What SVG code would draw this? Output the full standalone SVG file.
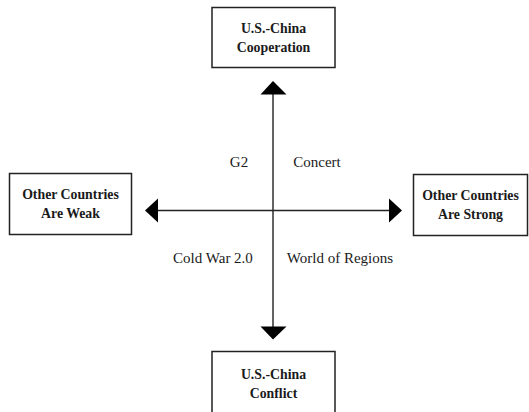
<svg xmlns="http://www.w3.org/2000/svg" width="529" height="412" viewBox="0 0 529 412">
<style>
.box{fill:#fff;stroke:#222;stroke-width:1.5}
.bt{font-family:'Liberation Serif','DejaVu Serif',serif;font-size:13.8px;font-weight:bold;fill:#1a1a1a;text-anchor:middle}
.lt{font-family:'Liberation Serif','DejaVu Serif',serif;font-size:15px;fill:#1a1a1a;text-anchor:middle}
.ax{stroke:#222;stroke-width:1.4;fill:none}
.ah{fill:#000}
</style>
<rect width="529" height="412" fill="#fff"/>
<g id="connectors">
<line class="ax" x1="273" y1="93" x2="273" y2="328"/>
<line class="ax" x1="156" y1="210.5" x2="390" y2="210.5"/>
<polygon class="ah" points="273,81 260.5,94.5 286.5,94.5"/>
<polygon class="ah" points="273,339.5 260.5,326.5 286.5,326.5"/>
<polygon class="ah" points="145,210.5 158,198.5 158,222.5"/>
<polygon class="ah" points="402,210.5 389,198.5 389,222.5"/>
</g>
<g id="node-cooperation">
<rect class="box" x="212" y="7.5" width="123" height="60"/>
<text class="bt" x="273.5" y="33">U.S.-China</text>
<text class="bt" x="273.5" y="52">Cooperation</text>
</g>
<g id="node-weak">
<rect class="box" x="9.5" y="173.5" width="122" height="61"/>
<text class="bt" x="70.5" y="199">Other Countries</text>
<text class="bt" x="70.5" y="218">Are Weak</text>
</g>
<g id="node-strong">
<rect class="box" x="413.5" y="174.5" width="114" height="61"/>
<text class="bt" x="470.5" y="200">Other Countries</text>
<text class="bt" x="470.5" y="219">Are Strong</text>
</g>
<g id="node-conflict">
<rect class="box" x="212" y="351.5" width="123" height="70"/>
<text class="bt" x="273.5" y="379">U.S.-China</text>
<text class="bt" x="273.5" y="398">Conflict</text>
</g>
<g id="labels">
<text class="lt" x="239" y="167">G2</text>
<text class="lt" x="317" y="167">Concert</text>
<text class="lt" x="213" y="263">Cold War 2.0</text>
<text class="lt" x="340" y="263">World of Regions</text>
</g>
</svg>
